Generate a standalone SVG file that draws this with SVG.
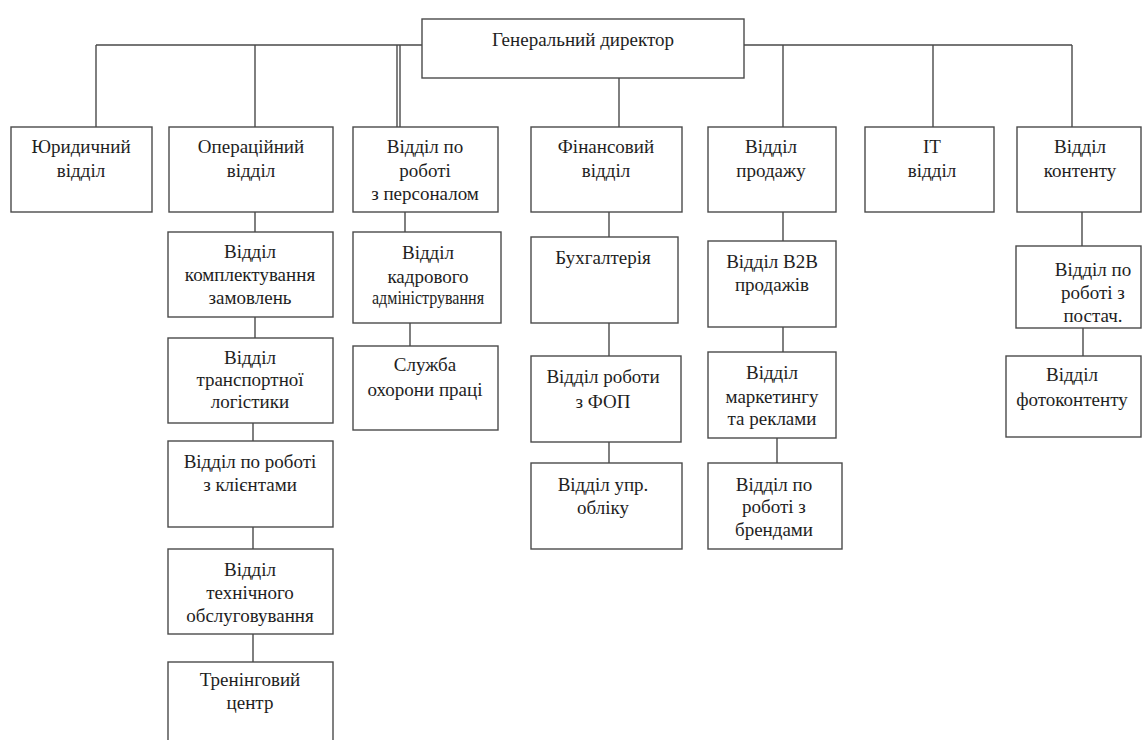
<svg xmlns="http://www.w3.org/2000/svg" width="1143" height="740" viewBox="0 0 1143 740">
<style>
.b{fill:#fff;stroke:#4a4a4a;stroke-width:1.4}
.c{stroke:#4a4a4a;stroke-width:1.4;fill:none}
text{font-family:'Liberation Serif','Liberation Sans',sans-serif;font-size:19px;fill:#1e1e1e;text-anchor:middle}
</style>
<rect width="1143" height="740" fill="#fff"/>
<g id="connectors" class="c">
<path d="M96 45H422M744 45H1072"/>
<path d="M96 45V127M255 45V127M397 45V127M400 45V127M619 78V127M783 45V127M933 45V127M1072 45V127"/>
<path d="M255 212V232M255 317V338M253 423V441M253 527V549M253 634V662"/>
<path d="M405 212V232M410 323V346"/>
<path d="M609 212V237M609 323V356M609 442V463"/>
<path d="M783 212V241M783 327V352M777 438V463"/>
<path d="M1082 212V246M1083 328V356"/>
</g>
<g id="gd"><rect class="b" x="422" y="19" width="322" height="59"/><text x="583" y="46">Генеральний директор</text></g>
<g id="legal"><rect class="b" x="11" y="127" width="141" height="85"/><text x="81" y="153">Юридичний</text><text x="81" y="177">відділ</text></g>
<g id="ops"><rect class="b" x="169" y="127" width="164" height="85"/><text x="251" y="153">Операційний</text><text x="251" y="177">відділ</text></g>
<g id="hr"><rect class="b" x="353" y="127" width="145" height="85"/><text x="425" y="153">Відділ по</text><text x="425" y="177">роботі</text><text x="425" y="200">з персоналом</text></g>
<g id="fin"><rect class="b" x="531" y="127" width="151" height="85"/><text x="606" y="153">Фінансовий</text><text x="606" y="177">відділ</text></g>
<g id="sales"><rect class="b" x="708" y="127" width="128" height="85"/><text x="771" y="153">Відділ</text><text x="771" y="177">продажу</text></g>
<g id="it"><rect class="b" x="865" y="127" width="129" height="85"/><text x="932" y="153">IT</text><text x="932" y="177">відділ</text></g>
<g id="content"><rect class="b" x="1017" y="127" width="124" height="85"/><text x="1080" y="153">Відділ</text><text x="1080" y="177">контенту</text></g>
<g id="ops1"><rect class="b" x="168" y="232" width="165" height="85"/><text x="250" y="258">Відділ</text><text x="250" y="281">комплектування</text><text x="250" y="304">замовлень</text></g>
<g id="ops2"><rect class="b" x="168" y="338" width="165" height="85"/><text x="250" y="364">Відділ</text><text x="250" y="386">транспортної</text><text x="250" y="408">логістики</text></g>
<g id="ops3"><rect class="b" x="168" y="441" width="165" height="86"/><text x="250" y="468">Відділ по роботі</text><text x="250" y="491">з клієнтами</text></g>
<g id="ops4"><rect class="b" x="168" y="549" width="165" height="85"/><text x="250" y="576">Відділ</text><text x="250" y="599">технічного</text><text x="250" y="622">обслуговування</text></g>
<g id="ops5"><rect class="b" x="168" y="662" width="165" height="90"/><text x="250" y="686">Тренінговий</text><text x="250" y="709">центр</text></g>
<g id="hr1"><rect class="b" x="353" y="232" width="148" height="91"/><text x="428" y="259">Відділ</text><text x="428" y="283">кадрового</text><text x="428" y="304" textLength="112" lengthAdjust="spacingAndGlyphs">адміністрування</text></g>
<g id="hr2"><rect class="b" x="353" y="346" width="145" height="84"/><text x="425" y="371">Служба</text><text x="425" y="396">охорони праці</text></g>
<g id="fin1"><rect class="b" x="531" y="237" width="147" height="86"/><text x="603" y="264">Бухгалтерія</text></g>
<g id="fin2"><rect class="b" x="531" y="356" width="150" height="86"/><text x="603" y="383">Відділ роботи</text><text x="603" y="408">з ФОП</text></g>
<g id="fin3"><rect class="b" x="531" y="463" width="151" height="86"/><text x="603" y="491">Відділ упр.</text><text x="603" y="514">обліку</text></g>
<g id="sales1"><rect class="b" x="708" y="241" width="128" height="86"/><text x="772" y="268">Відділ B2B</text><text x="772" y="291">продажів</text></g>
<g id="sales2"><rect class="b" x="708" y="352" width="128" height="86"/><text x="772" y="379">Відділ</text><text x="772" y="403">маркетингу</text><text x="772" y="425">та реклами</text></g>
<g id="sales3"><rect class="b" x="708" y="463" width="134" height="86"/><text x="774" y="491">Відділ по</text><text x="774" y="513">роботі з</text><text x="774" y="536">брендами</text></g>
<g id="content1"><rect class="b" x="1016" y="246" width="125" height="82"/><text x="1093" y="276">Відділ по</text><text x="1093" y="299">роботі з</text><text x="1093" y="322">постач.</text></g>
<g id="content2"><rect class="b" x="1006" y="356" width="135" height="81"/><text x="1072" y="381">Відділ</text><text x="1072" y="406">фотоконтенту</text></g>
</svg>
